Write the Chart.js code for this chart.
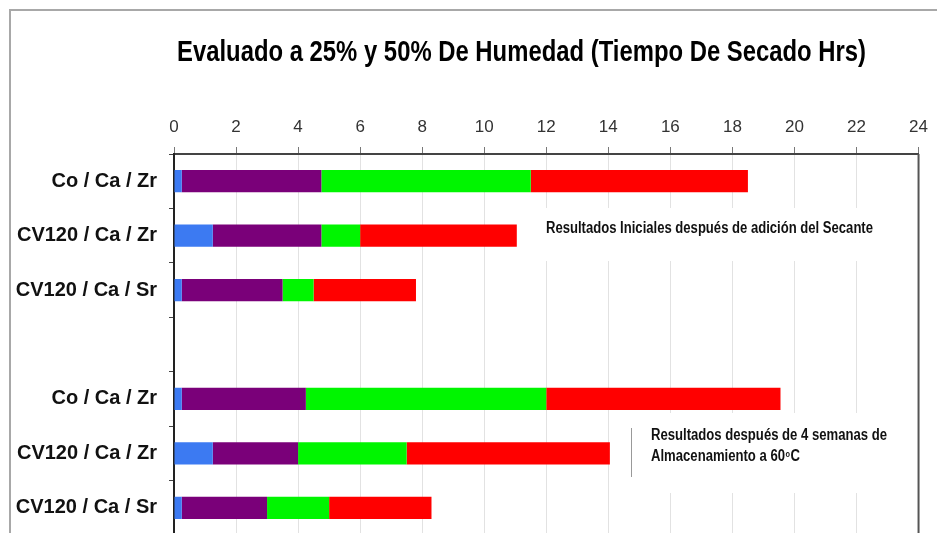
<!DOCTYPE html>
<html>
<head>
<meta charset="utf-8">
<script src="https://cdn.jsdelivr.net/npm/chart.js@4"></script>
<style>
  html, body { margin: 0; padding: 0; background: #fff; overflow: hidden; }
  #frame { position: absolute; left: 9px; top: 9px; width: 1000px; height: 1000px;
           border-top: 2px solid #a8a8a8; border-left: 2px solid #a8a8a8; }
  #wrap { position: absolute; left: 0; top: 0; width: 937px; height: 540px; }
</style>
</head>
<body>
<div id="frame"></div>
<div id="wrap"><canvas id="barChart"></canvas></div>
<script>
const categories = ["Co / Ca / Zr", "CV120 / Ca / Zr", "CV120 / Ca / Sr", "",
  "Co / Ca / Zr", "CV120 / Ca / Zr", "CV120 / Ca / Sr"];

// segment lengths (hours), stacked left to right
const blueSeg = [0.25, 1.25, 0.25, null, 0.25, 1.25, 0.25];
const purpleSeg = [4.5, 3.5, 3.25, null, 4.0, 2.75, 2.75];
const greenSeg = [6.75, 1.25, 1.0, null, 7.75, 3.5, 2.0];
const redSeg = [7.0, 5.05, 3.3, null, 7.55, 6.55, 3.3];

const titleText = "Evaluado a 25% y 50% De Humedad (Tiempo De Secado Hrs)";
const noteInitial = "Resultados Iniciales después de adición del Secante";
const noteStorage = ["Resultados después de 4 semanas de", "Almacenamiento a 60", "o", "C"];

const sans = "'Liberation Sans', Arial, sans-serif";

// draw text squeezed horizontally (the original uses a narrow face)
function narrowText(ctx, text, x, y, sx) {
  ctx.save();
  ctx.translate(x, y);
  ctx.scale(sx, 1);
  ctx.fillText(text, 0, 0);
  ctx.restore();
  return ctx.measureText(text).width * sx;
}

// title, notes and the right border of the plot
const notesPlugin = {
  id: "notes",
  afterDraw(chart) {
    const ctx = chart.ctx;
    const area = chart.chartArea;
    ctx.save();
    ctx.textAlign = "left";
    ctx.textBaseline = "alphabetic";

    ctx.fillStyle = "#000";
    ctx.font = "bold 29px " + sans;
    narrowText(ctx, titleText, 177, 61, 689 / ctx.measureText(titleText).width);

    ctx.strokeStyle = "#555";
    ctx.lineWidth = 2;
    ctx.beginPath();
    ctx.moveTo(area.right, area.top);
    ctx.lineTo(area.right, area.bottom);
    ctx.stroke();

    ctx.fillStyle = "#fff";
    ctx.fillRect(528, 208, 380, 53);
    ctx.fillRect(620, 413, 294, 80);

    ctx.fillStyle = "#111";
    ctx.font = "bold 16px " + sans;
    const s1 = 327 / ctx.measureText(noteInitial).width;
    narrowText(ctx, noteInitial, 546, 233, s1);

    const s2 = 236 / ctx.measureText(noteStorage[0]).width;
    narrowText(ctx, noteStorage[0], 651, 440, s2);
    let x = 651 + narrowText(ctx, noteStorage[1], 651, 461, s2);
    ctx.font = "bold 9px " + sans;
    x += narrowText(ctx, noteStorage[2], x + 0.5, 457, s2) + 1;
    ctx.font = "bold 16px " + sans;
    narrowText(ctx, noteStorage[3], x, 461, s2);

    ctx.strokeStyle = "#999";
    ctx.lineWidth = 1;
    ctx.beginPath();
    ctx.moveTo(631.5, 428);
    ctx.lineTo(631.5, 477);
    ctx.stroke();

    ctx.restore();
  },
};

const barCtx = document.getElementById("barChart").getContext("2d");
new Chart(barCtx, {
  type: "bar",
  data: {
    labels: categories,
    datasets: [
      { data: blueSeg, backgroundColor: "#3c7af2" },
      { data: purpleSeg, backgroundColor: "#7a0079" },
      { data: greenSeg, backgroundColor: "#00f500" },
      { data: redSeg, backgroundColor: "#ff0000" },
    ],
  },
  options: {
    indexAxis: "y",
    responsive: true,
    maintainAspectRatio: false,
    animation: false,
    layout: { padding: { left: 0, right: 15, top: 0, bottom: 5 } },
    datasets: { bar: { categoryPercentage: 1, barPercentage: 0.41 } },
    plugins: { legend: { display: false }, title: { display: false }, tooltip: { enabled: false } },
    scales: {
      x: {
        position: "top",
        stacked: true,
        min: 0,
        max: 24,
        afterFit: (scale) => { scale.height = 154; },
        ticks: { stepSize: 2, color: "#333", padding: 9, font: { family: sans, size: 17 } },
        grid: { color: "#e2e2e2", tickColor: "#777", tickLength: 7 },
        border: { color: "#444", width: 2 },
      },
      y: {
        stacked: true,
        afterFit: (scale) => {
          scale.width = 174;
          scale.paddingTop = 0;
          scale.paddingBottom = 0;
        },
        ticks: { color: "#111", padding: 12, font: { family: sans, size: 20, weight: "bold" } },
        grid: { drawOnChartArea: false, offset: true, tickColor: "#444", tickLength: 5 },
        border: { color: "#222", width: 2 },
      },
    },
  },
  plugins: [notesPlugin],
});
</script>
</body>
</html>
